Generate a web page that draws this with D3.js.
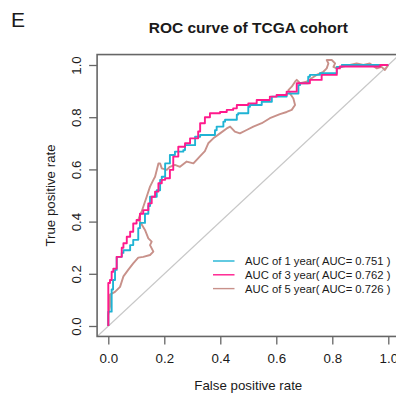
<!DOCTYPE html>
<html>
<head>
<meta charset="utf-8">
<script src="https://cdn.jsdelivr.net/npm/d3@7"></script>
<style>
  html, body { margin: 0; padding: 0; background: #fff; }
  svg { display: block; font-family: "Liberation Sans", Arial, sans-serif; }
</style>
</head>
<body>
<svg id="chart" width="396" height="395"></svg>
<script>
// ---- data ----
const title = "ROC curve of TCGA cohort";
const panelLabel = "E";
const xLabel = "False positive rate";
const yLabel = "True positive rate";
const tickValues = [0, 0.2, 0.4, 0.6, 0.8, 1.0];
const seriesNames = ["AUC of 1 year( AUC= 0.751 )", "AUC of 3 year( AUC= 0.762 )", "AUC of 5 year( AUC= 0.726 )"];
const seriesColors = ["#1fb3d4", "#ff1a8c", "#c8918a"];

const fpr1 = [0, 0.012, 0.017, 0.024, 0.03, 0.048, 0.054, 0.078, 0.089, 0.107, 0.113, 0.131, 0.143, 0.149, 0.173, 0.185, 0.191, 0.203, 0.22, 0.238, 0.268, 0.274, 0.31, 0.328, 0.381, 0.387, 0.411, 0.417, 0.459, 0.464, 0.5, 0.506, 0.548, 0.584, 0.589, 0.637, 0.679, 0.685, 0.714, 0.72, 0.756, 0.816, 0.834, 1.0];
const tpr1 = [0, 0.055, 0.14, 0.176, 0.215, 0.265, 0.28, 0.29, 0.31, 0.33, 0.375, 0.395, 0.43, 0.46, 0.495, 0.52, 0.56, 0.572, 0.623, 0.655, 0.668, 0.674, 0.693, 0.725, 0.732, 0.75, 0.764, 0.783, 0.79, 0.81, 0.815, 0.84, 0.847, 0.859, 0.879, 0.879, 0.891, 0.923, 0.93, 0.955, 0.962, 0.969, 0.993, 1.0];

const fpr3 = [0, 0, 0.006, 0.012, 0.018, 0.03, 0.048, 0.054, 0.066, 0.078, 0.089, 0.101, 0.113, 0.125, 0.143, 0.155, 0.167, 0.179, 0.191, 0.203, 0.22, 0.232, 0.25, 0.274, 0.292, 0.321, 0.328, 0.345, 0.363, 0.399, 0.423, 0.446, 0.459, 0.5, 0.53, 0.577, 0.601, 0.637, 0.673, 0.72, 0.762, 0.816, 0.827, 0.971, 1.0];
const tpr3 = [0, 0.088, 0.165, 0.176, 0.208, 0.22, 0.265, 0.30, 0.317, 0.342, 0.361, 0.393, 0.406, 0.43, 0.444, 0.47, 0.495, 0.515, 0.547, 0.56, 0.566, 0.598, 0.649, 0.687, 0.70, 0.719, 0.745, 0.777, 0.80, 0.815, 0.82, 0.828, 0.834, 0.847, 0.853, 0.866, 0.879, 0.885, 0.898, 0.93, 0.943, 0.962, 0.987, 0.994, 1.0];

const fpr5 = [0, 0, 0.006, 0.006, 0.024, 0.042, 0.054, 0.071, 0.089, 0.107, 0.125, 0.149, 0.161, 0.149, 0.155, 0.143, 0.131, 0.113, 0.107, 0.113, 0.119, 0.125, 0.137, 0.149, 0.161, 0.167, 0.179, 0.185, 0.191, 0.209, 0.22, 0.238, 0.256, 0.28, 0.304, 0.328, 0.345, 0.357, 0.375, 0.399, 0.423, 0.435, 0.452, 0.47, 0.494, 0.518, 0.548, 0.577, 0.613, 0.637, 0.655, 0.667, 0.661, 0.649, 0.643, 0.655, 0.667, 0.673, 0.685, 0.708, 0.726, 0.744, 0.768, 0.78, 0.786, 0.78, 0.798, 0.81, 0.804, 0.816, 0.834, 0.863, 0.887, 0.911, 0.934, 0.959, 0.976, 0.988, 1.0];
const tpr5 = [0, 0.042, 0.074, 0.12, 0.131, 0.15, 0.19, 0.215, 0.24, 0.262, 0.265, 0.272, 0.285, 0.31, 0.323, 0.336, 0.368, 0.40, 0.406, 0.425, 0.438, 0.457, 0.495, 0.534, 0.56, 0.572, 0.623, 0.623, 0.604, 0.598, 0.61, 0.617, 0.61, 0.63, 0.623, 0.651, 0.67, 0.70, 0.719, 0.738, 0.757, 0.764, 0.745, 0.738, 0.751, 0.764, 0.777, 0.796, 0.812, 0.82, 0.828, 0.847, 0.872, 0.891, 0.904, 0.917, 0.936, 0.943, 0.93, 0.936, 0.949, 0.962, 0.974, 0.987, 1.006, 1.019, 1.019, 1.006, 0.993, 0.987, 0.993, 1.0, 1.006, 1.0, 1.006, 0.987, 0.993, 0.981, 1.0];

// ---- layout ----
const svg = d3.select("#chart");
const x = d3.scaleLinear().domain([0, 1]).range([108.3, 388.3]);
const y = d3.scaleLinear().domain([0, 1]).range([326, 65]);
const boxL = x(-0.04), boxR = x(1.04), boxT = y(1.04), boxB = y(-0.04);
const axisColor = "#666";
const textColor = "#1a1a1a";

svg.append("clipPath").attr("id", "clip")
  .append("rect").attr("x", boxL).attr("y", boxT).attr("width", boxR - boxL).attr("height", boxB - boxT);

const plot = svg.append("g").attr("clip-path", "url(#clip)");

// diagonal reference line
plot.append("line")
  .attr("x1", x(-0.04)).attr("y1", y(-0.04))
  .attr("x2", x(1.04)).attr("y2", y(1.04))
  .attr("stroke", "#c8c8c8").attr("stroke-width", 1.2);

const series = [
  { fpr: fpr1, tpr: tpr1, curve: d3.curveStepBefore },
  { fpr: fpr3, tpr: tpr3, curve: d3.curveStepBefore },
  { fpr: fpr5, tpr: tpr5, curve: d3.curveLinear }
];

[2, 0, 1].forEach(i => {
  const s = series[i];
  const pts = s.fpr.map((f, j) => [f, s.tpr[j]]);
  const line = d3.line().x(d => x(d[0])).y(d => y(d[1])).curve(s.curve);
  plot.append("path")
    .attr("d", line(pts))
    .attr("fill", "none")
    .attr("stroke", seriesColors[i])
    .attr("stroke-width", 1.9)
    .attr("stroke-linejoin", "round");
});

// box
svg.append("rect")
  .attr("x", boxL).attr("y", boxT)
  .attr("width", boxR - boxL).attr("height", boxB - boxT)
  .attr("fill", "none").attr("stroke", axisColor).attr("stroke-width", 1.6);

// x axis
const xAxis = d3.axisBottom(x).tickValues(tickValues).tickSize(8).tickPadding(9)
  .tickFormat(d3.format(".1f"));
const gx = svg.append("g").attr("transform", `translate(0,${boxB})`).call(xAxis);
gx.select(".domain").remove();
gx.selectAll(".tick line").attr("stroke", axisColor).attr("stroke-width", 1.3);
gx.selectAll(".tick text").attr("fill", textColor).attr("font-size", 13.3)
  .attr("font-family", "Liberation Sans, Arial, sans-serif");

// y axis
const yAxis = d3.axisLeft(y).tickValues(tickValues).tickSize(8).tickFormat(d3.format(".1f"));
const gy = svg.append("g").attr("transform", `translate(${boxL},0)`).call(yAxis);
gy.select(".domain").remove();
gy.selectAll(".tick line").attr("stroke", axisColor).attr("stroke-width", 1.3);
gy.selectAll(".tick text")
  .attr("fill", textColor).attr("font-size", 13.3)
  .attr("font-family", "Liberation Sans, Arial, sans-serif")
  .attr("x", null).attr("dy", null)
  .attr("text-anchor", "middle")
  .attr("transform", `translate(${80.5 - boxL},0) rotate(-90)`);

// axis titles
svg.append("text")
  .attr("x", (boxL + boxR) / 2).attr("y", 390)
  .attr("text-anchor", "middle").attr("font-size", 13.3).attr("fill", textColor)
  .text(xLabel);
svg.append("text")
  .attr("transform", `translate(55,${(boxT + boxB) / 2}) rotate(-90)`)
  .attr("text-anchor", "middle").attr("font-size", 13.3).attr("fill", textColor)
  .text(yLabel);

// title
svg.append("text")
  .attr("x", (boxL + boxR) / 2).attr("y", 33)
  .attr("text-anchor", "middle").attr("font-size", 15.5).attr("font-weight", "bold")
  .attr("fill", textColor)
  .text(title);

// panel label
svg.append("text")
  .attr("x", 11).attr("y", 27)
  .attr("font-size", 21).attr("fill", textColor)
  .text(panelLabel);

// legend
const legendRows = [261, 274.8, 288.6];
const legendTextX = 245, legendTextMaxW = 147;
const lg = svg.append("g");
seriesNames.forEach((name, i) => {
  lg.append("line")
    .attr("x1", 213).attr("x2", 234.5)
    .attr("y1", legendRows[i]).attr("y2", legendRows[i])
    .attr("stroke", seriesColors[i]).attr("stroke-width", 1.4);
  const t = lg.append("text")
    .attr("x", legendTextX).attr("y", legendRows[i]).attr("dy", "0.36em")
    .attr("font-size", 12).attr("fill", textColor)
    .style("white-space", "pre")
    .text(name);
  let fs = 12;
  while (t.node().getComputedTextLength() > legendTextMaxW && fs > 9) {
    fs -= 0.25;
    t.attr("font-size", fs);
  }
});
</script>
</body>
</html>
